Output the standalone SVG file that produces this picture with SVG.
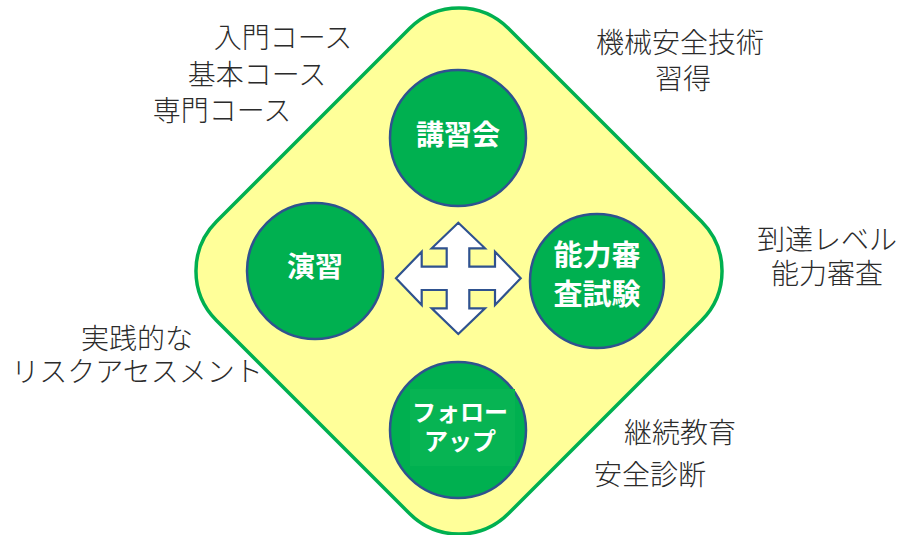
<svg xmlns="http://www.w3.org/2000/svg" width="900" height="535" viewBox="0 0 900 535">
<style>
.lbl{font-family:"Noto Sans CJK JP","Noto Sans",sans-serif;font-size:28px;font-weight:300;fill:#2b2b2b;text-anchor:middle}
.ctxt{font-family:"Noto Sans CJK JP","Noto Sans",sans-serif;font-weight:bold;fill:#ffffff;text-anchor:middle}
.circ{fill:#00B050;stroke:#2F528F;stroke-width:2.5}
</style>
<rect width="900" height="535" fill="#ffffff"/>
<g id="diamond">
<rect x="-206.5" y="-206.5" width="413" height="413" rx="70" ry="70" transform="translate(459,271) rotate(45)" fill="#FFFF99" stroke="#00B050" stroke-width="3.5"/>
</g>
<g id="connectors">
<polygon points="458.3,222.7 485,248.3 469.3,248.3 469.3,266.7 495,266.7 495,251.7 520.7,278.3 495,305 495,290 469.3,290 469.3,308.3 485,308.3 458.3,334 431.7,308.3 446.7,308.3 446.7,290 421.7,290 421.7,305 396,278.3 421.7,251.7 421.7,266.7 446.7,266.7 446.7,248.3 431.7,248.3" fill="#ffffff" stroke="#2F528F" stroke-width="2.2" stroke-linejoin="miter"/>
</g>
<g id="node-koshukai">
<circle class="circ" cx="458" cy="138" r="68"/>
<text class="ctxt" x="458" y="145" font-size="28">講習会</text>
</g>
<g id="node-enshu">
<circle class="circ" cx="315" cy="271" r="68"/>
<text class="ctxt" x="315" y="277" font-size="28">演習</text>
</g>
<g id="node-noryoku">
<circle class="circ" cx="597" cy="281" r="67"/>
<text class="ctxt" x="597" y="266" font-size="29">能力審</text>
<text class="ctxt" x="597" y="305" font-size="29">査試験</text>
</g>
<g id="node-followup">
<circle class="circ" cx="458" cy="430" r="68"/>
<rect x="410" y="389" width="105" height="77" fill="#07B453"/>
<text class="ctxt" x="460" y="421" font-size="24">フォロー</text>
<text class="ctxt" x="460" y="450" font-size="24">アップ</text>
</g>
<g id="labels">
<text class="lbl" x="283" y="48">入門コース</text>
<text class="lbl" x="257" y="85">基本コース</text>
<text class="lbl" x="222" y="121">専門コース</text>
<text class="lbl" x="680" y="53" font-size="29">機械安全技術</text>
<text class="lbl" x="683" y="89" font-size="29">習得</text>
<text class="lbl" x="827" y="250">到達レベル</text>
<text class="lbl" x="827" y="284">能力審査</text>
<text class="lbl" x="137" y="349">実践的な</text>
<text class="lbl" x="137" y="382">リスクアセスメント</text>
<text class="lbl" x="680" y="443">継続教育</text>
<text class="lbl" x="650" y="485">安全診断</text>
</g>
</svg>
